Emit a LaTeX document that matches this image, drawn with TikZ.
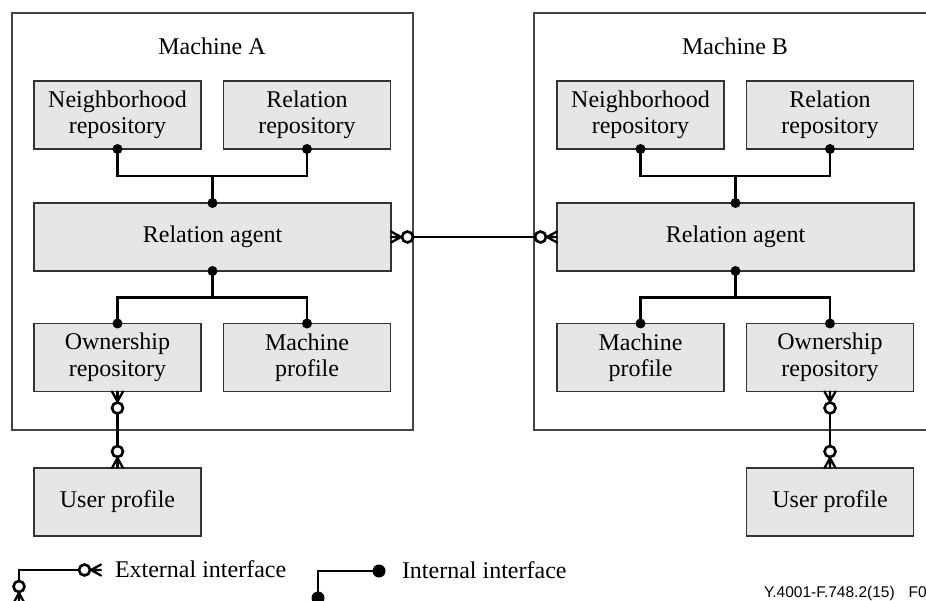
\documentclass[tikz,border=0pt]{standalone}
\usepackage{fontspec}
\setmainfont{Liberation Serif}
\newfontfamily\footfont{Liberation Sans}
\usetikzlibrary{calc}

\definecolor{boxfill}{HTML}{E6E6E6}
\definecolor{boxline}{HTML}{333333}
\definecolor{frameline}{HTML}{444444}

\tikzset{
  every node/.style={inner sep=0pt, outer sep=0pt, text=black,
    font=\fontsize{24}{26.5}\selectfont},
  comp/.style={draw=boxline, line width=1.3pt, fill=boxfill,
    minimum width=167pt, minimum height=68pt, align=center},
  wide/.style={comp, minimum width=357pt},
  machine/.style={draw=frameline, line width=1.4pt,
    minimum width=401pt, minimum height=417pt},
  conn/.style={draw=black, line width=2.6pt},
  jdot/.style={fill=black},
  % crow's foot with an open circle, pointing away from the anchor
  zeromany/.pic={
    \draw[conn, line width=2.3pt, line cap=round] (0,5.5) -- (10,0) -- (0,-5.5) (0,0) -- (10,0);
    \draw[conn, fill=white] (16.5,0) circle (5.5pt);
  }
}

\begin{document}
\begin{tikzpicture}[x=1pt, y=-1pt]
\useasboundingbox (0,0) rectangle (926,601);

% ---------- Machine A ----------
\node[machine] (frA) at (212.5,221.5) {};
\node (titleA) at (212,46) {Machine A};
\node[comp] (nbA) at (117.5,115) {Neighborhood\\repository};
\node[comp] (rrA) at (307,115) {Relation\\repository};
\node[wide] (agA) at (212.5,237) {Relation agent};
\node[comp] (owA) at (117.5,357.5) {Ownership\\repository};
\node[comp] (mpA) at (307,357.5) {Machine\\profile};
\node[comp] (upA) at (117.5,502) {User profile};

% ---------- Machine B ----------
\node[machine] (frB) at (734.5,221.5) {};
\node (titleB) at (735,46) {Machine B};
\node[comp] (nbB) at (640.5,115) {Neighborhood\\repository};
\node[comp] (rrB) at (830,115) {Relation\\repository};
\node[wide] (agB) at (735.5,237) {Relation agent};
\node[comp] (mpB) at (640.5,357.5) {Machine\\profile};
\node[comp] (owB) at (830,357.5) {Ownership\\repository};
\node[comp] (upB) at (830,502) {User profile};

% ---------- internal interfaces ----------
\foreach \m in {A,B}{
  \draw[conn] (nb\m.south) -- ++(0,27) -| (rr\m.south);
  \draw[conn] (ag\m.north) -- ++(0,-27);
  \draw[conn] (ag\m.south) -- ++(0,26);
  \fill[jdot] (nb\m.south) circle (5pt);
  \fill[jdot] (rr\m.south) circle (5pt);
  \fill[jdot] (ag\m.north) circle (5pt);
  \fill[jdot] (ag\m.south) circle (5pt);
}
\draw[conn] (owA.north) -- ++(0,-26) -| (mpA.north);
\draw[conn] (mpB.north) -- ++(0,-26) -| (owB.north);
\foreach \n in {owA,mpA,mpB,owB}{
  \fill[jdot] (\n.north) circle (5pt);
}

% ---------- external interfaces ----------
\draw[conn] (agA.east) -- (agB.west);
\pic at (agA.east) {zeromany};
\pic[rotate=180] at (agB.west) {zeromany};

\draw[conn] (owA.south) -- (upA.north);
\pic[rotate=-90] at (owA.south) {zeromany};
\pic[rotate=90] at (upA.north) {zeromany};

\draw[conn] (owB.south) -- (upB.north);
\pic[rotate=-90] at (owB.south) {zeromany};
\pic[rotate=90] at (upB.north) {zeromany};

% ---------- legend ----------
\coordinate (extH) at (101,570);
\coordinate (extV) at (19,603);
\draw[conn] (extH) -| (extV);
\pic[rotate=180] at (extH) {zeromany};
\pic[rotate=90] at (extV) {zeromany};
\node[anchor=west] (extL) at (115,569) {External interface};

\coordinate (intH) at (379,571);
\coordinate (intV) at (318,598);
\draw[conn] (intH) -| (intV);
\fill[jdot] (intH) circle (6.5pt);
\fill[jdot] (intV) circle (6.5pt);
\node[anchor=west] (intL) at (402,570) {Internal interface};

\node[anchor=west, font=\footfont\fontsize{15.5}{17}\selectfont] (fig) at (764,593)
  {Y.4001-F.748.2(15)\hspace{14pt}F0};
\end{tikzpicture}
\end{document}
